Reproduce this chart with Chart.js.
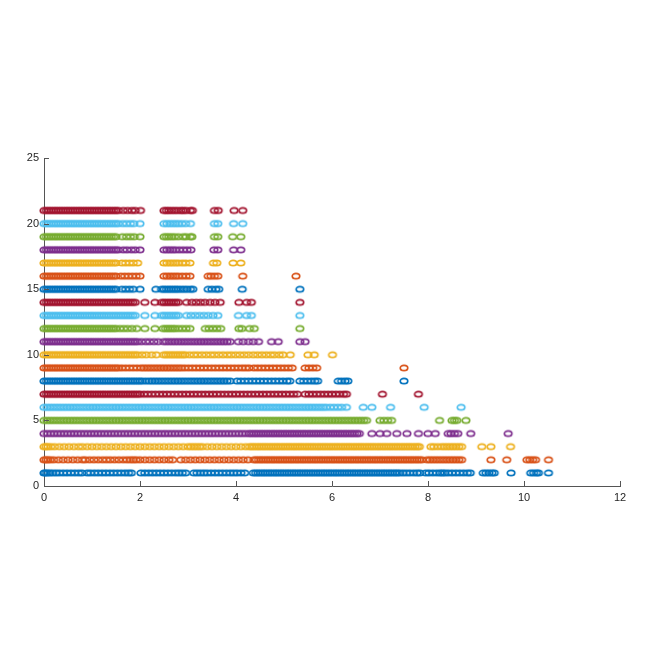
<!DOCTYPE html>
<html><head><meta charset="utf-8">
<script src="https://cdn.jsdelivr.net/npm/chart.js@4/dist/chart.umd.min.js"></script>
<style>html,body{margin:0;padding:0;background:#fff;}#wrap{width:654px;height:654px;}</style>
</head><body><div id="wrap"><canvas id="c" width="654" height="654"></canvas></div>
<script>
const xTicks=[0,2,4,6,8,10,12];
const yTicks=[0,5,10,15,20,25];
const rowY=[1,2,3,4,5,6,7,8,9,10,11,12,13,14,15,16,17,18,19,20,21];
const seriesColors=['#0072BD','#D95319','#EDB120','#7E2F8E','#77AC30','#4DBEEE','#A2142F'];

const row1=[0,0.03,0.07,0.12,0.18,0.25,0.32,0.4,0.48,0.56,0.64,0.72,0.79,
0.9,0.97,1.05,1.13,1.21,1.29,1.37,1.45,1.53,1.61,1.69,1.76,1.82,
2.02,2.1,2.18,2.26,2.34,2.42,2.5,2.58,2.66,2.74,2.81,2.88,2.95,
3.12,3.19,3.26,3.33,3.4,3.48,3.56,3.64,3.72,3.8,3.88,3.95,4.02,4.1,4.18,
4.36,4.41,4.46,4.51,4.56,4.61,4.66,4.71,4.76,4.81,4.86,4.91,4.96,5.01,5.06,5.11,5.16,5.21,5.26,5.31,5.36,5.41,5.46,5.51,5.56,5.61,5.66,5.71,5.76,5.81,5.86,5.91,5.96,6.01,6.06,6.11,6.16,6.21,6.26,6.31,6.36,6.41,6.46,6.51,6.56,6.61,6.66,6.71,6.76,6.81,6.86,6.91,6.96,7.01,7.06,7.11,7.16,7.21,7.26,7.31,7.36,7.41,
7.48,7.55,7.62,7.7,7.77,7.83,
7.95,8.02,8.1,8.18,8.25,8.3,8.35,8.42,8.5,8.58,8.66,8.74,8.82,8.88,
9.15,9.21,9.27,9.33,9.38,9.73,10.14,10.2,10.26,10.3,10.51];

const row2=[0,0.04,0.08,0.13,0.2,0.3,0.4,0.5,0.6,0.7,0.8,
0.86,0.95,1.04,1.13,1.22,1.3,1.38,1.47,1.56,1.65,1.73,1.8,1.86,1.92,2,2.1,2.2,2.3,2.4,2.5,2.6,2.68,
2.85,2.95,3.05,3.15,3.25,3.35,3.45,3.55,3.65,3.75,3.85,3.95,4.05,4.15,4.25,
4.37,4.42,4.47,4.52,4.57,4.62,4.67,4.72,4.77,4.82,4.87,4.92,4.97,5.02,5.07,5.12,5.17,5.22,5.27,5.32,5.37,5.42,5.47,5.52,5.57,5.62,5.67,5.72,5.77,5.82,5.87,5.92,5.97,6.02,6.07,6.12,6.17,6.22,6.27,6.32,6.37,6.42,6.47,6.52,6.57,6.62,6.67,6.72,6.77,6.82,6.87,6.92,6.97,7.02,7.07,7.12,7.17,7.22,7.27,7.32,7.37,7.42,7.47,7.52,7.57,7.62,7.67,7.72,7.77,7.82,7.87,
7.98,8.04,8.1,8.16,8.22,8.28,8.34,8.4,8.46,8.52,8.58,8.64,8.7,
9.31,9.64,10.06,10.12,10.18,10.24,10.51];

const row3=[0,0.04,0.08,0.14,0.22,0.32,0.42,0.52,0.62,0.72,
0.8,0.9,1,
1.1,1.2,1.3,1.4,1.5,1.6,1.7,1.8,1.9,2,2.1,2.2,2.3,2.4,2.5,2.6,2.7,2.8,2.9,3,3.06,3.12,3.18,3.24,3.3,3.4,3.5,3.6,3.7,3.8,3.9,4,4.1,4.2,4.28,
4.33,4.38,4.43,4.48,4.53,4.58,4.63,4.68,4.73,4.78,4.83,4.88,4.93,4.98,5.03,5.08,5.13,5.18,5.23,5.28,5.33,5.38,5.43,5.48,5.53,5.58,5.63,5.68,5.73,5.78,5.83,5.88,5.93,5.98,6.03,6.08,6.13,6.18,6.23,6.28,6.33,6.38,6.43,6.48,6.53,6.58,6.63,6.68,6.73,6.78,6.83,6.88,6.93,6.98,7.03,7.08,7.13,7.18,7.23,7.28,7.33,7.38,7.43,7.48,7.53,7.58,7.63,7.68,7.73,7.78,7.82,
8.06,8.12,8.2,8.28,8.34,8.4,8.46,8.52,8.58,8.64,8.7,
9.12,9.31,9.72];

const row4=[0,0.07,0.14,0.21,0.28,0.35,0.42,0.49,0.56,0.63,0.7,0.77,0.84,0.91,0.98,1.05,1.12,1.19,1.26,1.33,1.4,1.47,1.54,1.61,1.68,1.75,1.82,1.89,1.96,2.03,2.1,2.17,2.24,2.31,2.38,2.45,2.52,2.59,2.66,2.73,2.8,2.87,2.94,3.01,3.08,3.15,3.22,3.29,3.36,3.43,3.5,3.57,3.64,3.71,3.78,3.85,3.92,3.99,4.06,4.13,4.2,4.27,
4.32,4.37,4.42,4.47,4.52,4.57,4.62,4.67,4.72,4.77,4.82,4.87,4.92,4.97,5.02,5.07,5.12,5.17,5.22,5.27,5.32,5.37,5.42,5.47,5.52,5.57,5.62,5.67,5.72,5.77,5.82,5.87,5.92,5.97,6.02,6.07,6.12,6.17,6.22,6.27,6.32,6.37,6.42,6.47,6.52,6.57,
6.83,7,7.14,7.35,7.56,7.8,8,8.15,8.42,8.48,8.55,8.62,8.89,9.67];

const row5=[0,0.06,0.12,0.18,0.24,0.3,0.36,0.42,0.48,0.54,0.6,0.66,0.72,0.78,0.84,0.9,0.96,1.02,1.08,1.14,1.2,1.26,1.32,1.38,1.44,1.5,1.56,1.62,1.68,1.74,1.8,1.86,1.92,1.98,2.04,2.1,2.16,2.22,2.28,2.34,2.4,2.46,2.52,2.58,2.64,2.7,2.76,2.82,2.88,2.94,3,3.06,3.12,3.18,3.24,3.3,3.36,3.42,3.48,3.54,3.6,3.66,3.72,3.78,3.84,3.9,3.96,4.02,4.08,4.14,4.2,4.26,4.32,4.38,4.44,4.5,4.56,4.62,4.68,4.74,4.8,4.86,4.92,4.98,5.04,5.1,5.16,5.22,5.28,5.34,5.4,5.46,5.52,5.58,5.64,5.7,5.76,5.82,5.88,5.94,6,6.06,6.12,6.18,6.24,6.3,6.36,6.42,6.48,6.54,6.6,6.66,6.72,
7,7.08,7.16,7.24,8.24,8.5,8.55,8.6,8.79];

const row6=[0,0.06,0.12,0.18,0.24,0.3,0.36,0.42,0.48,0.54,0.6,0.66,0.72,0.78,0.84,0.9,0.96,1.02,1.08,1.14,1.2,1.26,1.32,1.38,1.44,1.5,1.56,1.62,1.68,1.74,1.8,1.86,1.92,1.98,2.04,2.1,2.16,2.22,2.28,2.34,2.4,2.46,2.52,2.58,2.64,2.7,2.76,2.82,2.88,2.94,3,3.06,3.12,3.18,3.24,3.3,3.36,3.42,3.48,3.54,3.6,3.66,3.72,3.78,3.84,3.9,3.96,4.02,4.08,4.14,4.2,4.26,4.32,4.38,4.44,4.5,4.56,4.62,4.68,4.74,4.8,4.86,4.92,4.98,5.04,5.1,5.16,5.22,5.28,5.34,5.4,5.46,5.52,5.58,5.64,5.7,5.76,5.82,5.88,
5.96,6.04,6.12,6.2,6.3,6.65,6.83,7.22,7.92,8.69];

const row7=[0,0.05,0.1,0.15,0.2,0.25,0.3,0.35,0.4,0.45,0.5,0.55,0.6,0.65,0.7,0.75,0.8,0.85,0.9,0.95,1,1.05,1.1,1.15,1.2,1.25,1.3,1.35,1.4,1.45,1.5,1.55,1.6,1.65,1.7,1.75,1.8,1.85,1.9,1.95,2,
2.08,2.16,2.24,2.32,2.4,2.48,2.56,2.64,2.72,2.8,2.88,2.96,3.04,3.12,3.2,3.28,3.36,3.44,3.52,3.6,3.68,3.76,3.84,3.92,4,4.08,4.16,4.24,4.32,4.4,4.48,4.56,4.64,4.72,4.8,4.88,4.96,5.04,5.12,5.2,5.28,
5.44,5.52,5.6,5.68,5.76,5.84,5.92,6,6.08,6.16,6.24,6.3,7.05,7.8];

const row8=[0,0.05,0.1,0.15,0.2,0.25,0.3,0.35,0.4,0.45,0.5,0.55,0.6,0.65,0.7,0.75,0.8,0.85,0.9,0.95,1,1.05,1.1,1.15,1.2,1.25,1.3,1.35,1.4,1.45,1.5,1.55,1.6,1.65,1.7,1.75,1.8,1.85,1.9,1.95,2,2.05,
2.12,2.19,2.25,2.31,2.37,2.43,2.49,2.55,2.61,2.67,2.73,2.79,2.85,2.91,2.97,3.03,3.09,3.15,3.21,3.27,3.33,3.39,3.45,3.51,3.57,3.63,3.69,3.75,3.81,3.88,
4.02,4.1,4.18,4.26,4.34,4.42,4.5,4.58,4.66,4.74,4.82,4.9,4.98,5.06,5.12,
5.33,5.41,5.49,5.57,5.64,5.7,6.13,6.2,6.27,6.33,7.5];

const row9=[0,0.05,0.1,0.15,0.2,0.25,0.3,0.35,0.4,0.45,0.5,0.55,0.6,0.65,0.7,0.75,0.8,0.85,0.9,0.95,1,1.05,1.1,1.15,1.2,1.25,1.3,1.35,1.4,1.45,1.5,1.55,
1.62,1.7,1.78,1.86,1.94,2.02,2.08,2.14,2.2,2.26,2.32,2.38,2.44,2.5,2.56,2.62,2.68,2.74,2.8,2.86,
2.93,3.01,3.09,3.17,3.25,3.33,3.41,3.49,3.57,3.65,3.73,3.81,3.89,3.97,4.05,4.13,4.2,4.27,
4.37,4.45,4.53,4.61,4.69,4.77,4.85,4.93,5.01,5.09,5.17,5.44,5.52,5.6,5.68,7.5];

const row10=[0,0.05,0.1,0.15,0.2,0.25,0.3,0.35,0.4,0.45,0.5,0.55,0.6,0.65,0.7,0.75,0.8,0.85,0.9,0.95,1,1.05,1.1,1.15,1.2,1.25,1.3,1.35,1.4,1.45,1.5,1.55,1.6,1.65,1.7,1.75,1.8,1.85,1.9,1.95,
2.04,2.13,2.24,2.34,2.49,2.54,2.59,2.64,2.69,2.74,2.79,2.84,2.89,2.94,
3.03,3.12,3.2,3.29,3.38,3.47,3.55,3.64,3.73,3.82,3.9,3.99,4.08,4.17,4.26,
4.36,4.45,4.54,4.63,4.72,4.8,4.9,4.98,5.13,5.5,5.63,6.01];

const row11=[0,0.05,0.1,0.15,0.2,0.25,0.3,0.35,0.4,0.45,0.5,0.55,0.6,0.65,0.7,0.75,0.8,0.85,0.9,0.95,1,1.05,1.1,1.15,1.2,1.25,1.3,1.35,1.4,1.45,1.5,1.55,1.6,1.65,1.7,1.75,1.8,1.85,1.9,1.95,
2.03,2.12,2.2,2.29,2.38,
2.49,2.55,2.61,2.67,2.73,2.79,2.85,2.91,2.97,3.03,3.09,3.15,3.21,3.27,3.33,3.39,3.45,3.51,3.57,3.63,3.69,3.75,3.81,3.88,
4.05,4.15,4.26,4.36,4.47,4.74,4.88,5.33,5.44];

const row12=[0,0.05,0.1,0.15,0.2,0.25,0.3,0.35,0.4,0.45,0.5,0.55,0.6,0.65,0.7,0.75,0.8,0.85,0.9,0.95,1,1.05,1.1,1.15,1.2,1.25,1.3,1.35,1.4,1.45,1.5,
1.58,1.66,1.74,1.83,1.93,2.1,2.31,
2.48,2.53,2.58,2.63,2.68,2.73,2.8,2.88,2.96,3.04,
3.36,3.44,3.52,3.6,3.68,4.06,4.12,4.28,4.38,5.33];

const row13=[0,0.05,0.1,0.15,0.2,0.25,0.3,0.35,0.4,0.45,0.5,0.55,0.6,0.65,0.7,0.75,0.8,0.85,0.9,0.95,1,1.05,1.1,1.15,1.2,1.25,1.3,1.35,1.4,1.45,1.5,1.55,1.6,1.65,1.7,1.75,1.8,1.85,1.9,
2.1,2.31,2.45,2.5,2.55,2.6,2.65,2.7,2.75,2.8,
2.97,3.06,3.15,3.24,3.33,3.42,3.52,3.62,4.05,4.22,4.32,5.33];

const row14=[0,0.05,0.1,0.15,0.2,0.25,0.3,0.35,0.4,0.45,0.5,0.55,0.6,0.65,0.7,0.75,0.8,0.85,0.9,0.95,1,1.05,1.1,1.15,1.2,1.25,1.3,1.35,1.4,1.45,1.5,1.55,1.6,1.65,1.7,1.75,1.8,1.85,1.9,
2.1,2.31,2.45,2.5,2.55,2.6,2.65,2.7,2.75,2.8,
2.97,3.08,3.17,3.26,3.35,3.46,3.56,3.67,4.06,4.22,4.32,5.33];

const row15=[0,0.05,0.1,0.15,0.2,0.25,0.3,0.35,0.4,0.45,0.5,0.55,0.6,0.65,0.7,0.75,0.8,0.85,0.9,0.95,1,1.05,1.1,1.15,1.2,1.25,1.3,1.35,1.4,1.45,1.5,
1.62,1.7,1.78,1.86,2,2.33,
2.45,2.5,2.55,2.6,2.65,2.7,2.75,2.8,2.86,2.92,2.98,3.05,3.1,
3.42,3.5,3.58,3.64,4.13,5.33];

const row16=[0,0.05,0.1,0.15,0.2,0.25,0.3,0.35,0.4,0.45,0.5,0.55,0.6,0.65,0.7,0.75,0.8,0.85,0.9,0.95,1,1.05,1.1,1.15,1.2,1.25,1.3,1.35,1.4,1.45,1.5,
1.6,1.68,1.76,1.84,1.92,2,
2.5,2.56,2.62,2.68,2.74,2.8,2.88,2.96,3.04,
3.42,3.48,3.55,3.62,4.14,5.25];

const row17=[0,0.05,0.1,0.15,0.2,0.25,0.3,0.35,0.4,0.45,0.5,0.55,0.6,0.65,0.7,0.75,0.8,0.85,0.9,0.95,1,1.05,1.1,1.15,1.2,1.25,1.3,1.35,1.4,1.45,1.5,
1.62,1.7,1.78,1.86,1.95,
2.5,2.56,2.62,2.68,2.74,2.8,2.88,2.95,3.04,
3.53,3.6,3.94,4.1];

const row18=[0,0.05,0.1,0.15,0.2,0.25,0.3,0.35,0.4,0.45,0.5,0.55,0.6,0.65,0.7,0.75,0.8,0.85,0.9,0.95,1,1.05,1.1,1.15,1.2,1.25,1.3,1.35,1.4,1.45,1.5,1.55,
1.65,1.73,1.82,1.9,2,
2.5,2.56,2.62,2.68,2.74,2.82,2.9,2.98,3.06,
3.54,3.62,3.95,4.1];

const row19=[0,0.05,0.1,0.15,0.2,0.25,0.3,0.35,0.4,0.45,0.5,0.55,0.6,0.65,0.7,0.75,0.8,0.85,0.9,0.95,1,1.05,1.1,1.15,1.2,1.25,1.3,1.35,1.4,1.45,1.5,
1.63,1.72,1.8,1.88,2,
2.5,2.55,2.6,2.66,2.72,2.8,2.9,2.96,3.05,3.08,
3.55,3.62,3.93,4.1];

const row20=[0,0.05,0.1,0.15,0.2,0.25,0.3,0.35,0.4,0.45,0.5,0.55,0.6,0.65,0.7,0.75,0.8,0.85,0.9,0.95,1,1.05,1.1,1.15,1.2,1.25,1.3,1.35,1.4,1.45,1.5,1.55,
1.64,1.72,1.8,1.87,2,
2.5,2.56,2.62,2.68,2.74,2.8,2.87,2.95,3.05,
3.55,3.62,3.95,4.14];

const row21=[0,0.05,0.1,0.15,0.2,0.25,0.3,0.35,0.4,0.45,0.5,0.55,0.6,0.65,0.7,0.75,0.8,0.85,0.9,0.95,1,1.05,1.1,1.15,1.2,1.25,1.3,1.35,1.4,1.45,1.5,1.55,
1.65,1.74,1.83,1.9,2.01,
2.5,2.55,2.6,2.66,2.72,2.78,2.85,2.9,2.96,3.05,3.09,
3.55,3.63,3.96,4.14];

const rows=[row1,row2,row3,row4,row5,row6,row7,row8,row9,row10,row11,row12,row13,row14,row15,row16,row17,row18,row19,row20,row21];

function ellipseMarker(color){
  const c=document.createElement('canvas');
  c.width=12;c.height=10;
  const g=c.getContext('2d');
  g.strokeStyle=color;g.lineWidth=1.7;
  g.beginPath();g.ellipse(6,5,3.75,2.65,0,0,Math.PI*2);g.stroke();
  return c;
}
const markers=seriesColors.map(ellipseMarker);

const axisColor='#555555';
const insideTicks={
  id:'insideTicks',
  afterDraw(chart){
    const {ctx,scales:{x,y},chartArea:a}=chart;
    ctx.save();ctx.strokeStyle=axisColor;ctx.lineWidth=1;ctx.beginPath();
    xTicks.forEach(v=>{const px=Math.round(x.getPixelForValue(v))+0.5;ctx.moveTo(px,a.bottom);ctx.lineTo(px,a.bottom-5);});
    yTicks.forEach(v=>{const py=Math.round(y.getPixelForValue(v))+0.5;ctx.moveTo(a.left,py);ctx.lineTo(a.left+5,py);});
    ctx.stroke();ctx.restore();
  }
};

const font={family:'"Liberation Sans", Arial, Helvetica, sans-serif',size:11};
new Chart(document.getElementById('c'),{
  type:'scatter',
  data:{datasets:rows.map((r,i)=>({
    label:'row'+rowY[i],
    data:r.map(v=>({x:v,y:rowY[i]})),
    pointStyle:markers[i%7],
    pointRadius:4,
    borderColor:seriesColors[i%7],
    clip:false
  }))},
  options:{
    responsive:false,animation:false,devicePixelRatio:1,events:[],
    plugins:{legend:{display:false},tooltip:{enabled:false}},
    layout:{padding:{left:0,right:34,top:158,bottom:0}},
    scales:{
      x:{type:'linear',min:0,max:12,
        afterBuildTicks(s){s.ticks=xTicks.map(v=>({value:v}));},
        ticks:{color:'#262626',font,padding:5,maxRotation:0},
        grid:{display:false,drawTicks:false},
        border:{display:true,color:axisColor,width:1},
        afterFit(s){s.height=168;}},
      y:{type:'linear',min:0,max:25,
        afterBuildTicks(s){s.ticks=yTicks.map(v=>({value:v}));},
        ticks:{color:'#262626',font,padding:5},
        grid:{display:false,drawTicks:false},
        border:{display:true,color:axisColor,width:1},
        afterFit(s){s.width=44;}}
    }
  },
  plugins:[insideTicks]
});
</script></body></html>
